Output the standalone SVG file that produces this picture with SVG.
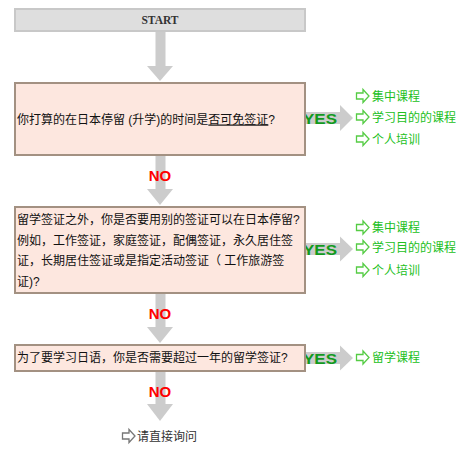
<svg xmlns="http://www.w3.org/2000/svg" width="473" height="452" viewBox="0 0 473 452">
<defs>
<style>
.start{fill:#dedede;stroke:#c8c8c8;stroke-width:2}
.q{fill:#fde7df;stroke:#a39182;stroke-width:2}
.qt{font-family:"Liberation Sans","Noto Sans CJK SC",sans-serif;font-size:12px;fill:#111}
.st{font-family:"Liberation Serif",serif;font-size:11.5px;font-weight:bold;fill:#333}
.arr{fill:#cccccc}
.no{font-family:"Liberation Sans",sans-serif;font-size:15px;font-weight:bold;fill:#ff0000}
.yes{font-family:"Liberation Sans",sans-serif;font-size:15px;font-weight:bold;fill:#129a1e}
.it{font-family:"Liberation Sans","Noto Sans CJK SC",sans-serif;font-size:12px;fill:#22c022}
.ic{fill:#fff;stroke:#55cc44;stroke-width:1.3;stroke-linejoin:miter}
.icg{fill:#fff;stroke:#777;stroke-width:1.3}
.fin{font-family:"Liberation Sans","Noto Sans CJK SC",sans-serif;font-size:12px;fill:#333}
</style>
<path id="icon" d="M0.5,-3 H7 V-6.5 L13,0 L7,6.5 V3 H0.5 Z"/>
</defs>

<g id="connectors">
  <rect class="arr" x="155.5" y="32" width="10" height="34"/>
  <polygon class="arr" points="147,66 173,66 160,81"/>
  <rect class="arr" x="155.5" y="156" width="10" height="33"/>
  <polygon class="arr" points="147,189 173,189 160,205"/>
  <text class="no" x="160" y="181" text-anchor="middle">NO</text>
  <rect class="arr" x="155.5" y="294" width="10" height="33"/>
  <polygon class="arr" points="147,327 173,327 160,343"/>
  <text class="no" x="160" y="319" text-anchor="middle">NO</text>
  <rect class="arr" x="155.5" y="372" width="10" height="32"/>
  <polygon class="arr" points="147,404 173,404 160,421"/>
  <text class="no" x="160" y="397" text-anchor="middle">NO</text>
  <rect class="arr" x="306" y="112" width="35" height="12"/>
  <polygon class="arr" points="340,105 353,118 340,131"/>
  <text class="yes" x="303" y="123.5" textLength="34" lengthAdjust="spacingAndGlyphs">YES</text>
  <rect class="arr" x="306" y="243" width="35" height="12"/>
  <polygon class="arr" points="340,236.5 353,249 340,261.5"/>
  <text class="yes" x="303" y="254.5" textLength="34" lengthAdjust="spacingAndGlyphs">YES</text>
  <rect class="arr" x="306" y="352" width="35" height="12"/>
  <polygon class="arr" points="340,345.5 353,358 340,370.5"/>
  <text class="yes" x="303" y="363.5" textLength="34" lengthAdjust="spacingAndGlyphs">YES</text>
</g>

<g id="start">
  <rect class="start" x="15" y="9" width="290" height="22"/>
  <text class="st" x="160" y="24" text-anchor="middle">START</text>
</g>

<g id="q1">
  <rect class="q" x="15" y="83" width="290" height="72"/>
  <text class="qt" x="17" y="123.5">你打算的在日本停留 (升学)的时间是<tspan style="text-decoration:underline">否可免签证</tspan>?</text>
</g>

<g id="q1-yes">
  <use href="#icon" class="ic" x="356" y="96"/>
  <text class="it" x="372" y="100.5">集中课程</text>
  <use href="#icon" class="ic" x="356" y="117"/>
  <text class="it" x="372" y="121.5">学习目的的课程</text>
  <use href="#icon" class="ic" x="356" y="139"/>
  <text class="it" x="372" y="143.5">个人培训</text>
</g>

<g id="q2">
  <rect class="q" x="15" y="207" width="290" height="86"/>
  <text class="qt" x="17" y="224">留学签证之外，你是否要用别的签证可以在日本停留?</text>
  <text class="qt" x="17" y="244.5">例如，工作签证，家庭签证，配偶签证，永久居住签</text>
  <text class="qt" x="17" y="265">证，长期居住签证或是指定活动签证（ 工作旅游签</text>
  <text class="qt" x="17" y="285.5">证)?</text>
</g>

<g id="q2-yes">
  <use href="#icon" class="ic" x="356" y="227.5"/>
  <text class="it" x="372" y="232">集中课程</text>
  <use href="#icon" class="ic" x="356" y="247"/>
  <text class="it" x="372" y="251.5">学习目的的课程</text>
  <use href="#icon" class="ic" x="356" y="270"/>
  <text class="it" x="372" y="274.5">个人培训</text>
</g>

<g id="q3">
  <rect class="q" x="15" y="345" width="290" height="26"/>
  <text class="qt" x="17" y="362">为了要学习日语，你是否需要超过一年的留学签证?</text>
</g>

<g id="q3-yes">
  <use href="#icon" class="ic" x="356" y="357.5"/>
  <text class="it" x="372" y="362">留学课程</text>
</g>

<g id="final">
  <use href="#icon" class="icg" x="122" y="436"/>
  <text class="fin" x="137" y="440.5">请直接询问</text>
</g>
</svg>
